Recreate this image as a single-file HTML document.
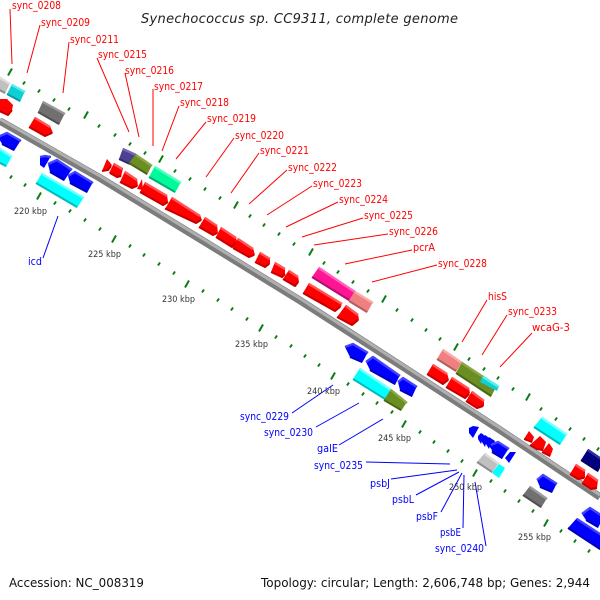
<!DOCTYPE html>
<html><head><meta charset="utf-8"><style>
html,body{margin:0;padding:0;background:#fff}
svg{display:block}
text{font-family:"DejaVu Sans","Liberation Sans",sans-serif}
.lr{fill:#f00;font-size:10.3px}.lb{fill:#00f;font-size:10.3px}
.k{fill:#333;font-size:9px}
.m{fill:#111;font-size:12px}
.lead{fill:none;stroke-width:1}
.t,.b{fill:none;stroke-linejoin:round}
.t{stroke-width:2.4}.b{stroke-width:2}
.r polygon{fill:#f00}.r .t{stroke:#f55}.r .b{stroke:#c40000}
.u polygon{fill:#00f}.u .t{stroke:#44f}.u .b{stroke:#0000b8}
.c polygon{fill:#0ff}.c .t{stroke:#7ff}.c .b{stroke:#0bb}
.d polygon{fill:#10cfd4}.d .t{stroke:#5ee}.d .b{stroke:#0a9a9e}
.g polygon{fill:#c0c0c0}.g .t{stroke:#ddd}.g .b{stroke:#8c8c8c}
.x polygon{fill:#707070}.x .t{stroke:#999}.x .b{stroke:#505050}
.p polygon{fill:#4b4190}.p .t{stroke:#7468b8}.p .b{stroke:#342c68}
.o polygon{fill:#6b8e23}.o .t{stroke:#8aa84a}.o .b{stroke:#4c6618}
.s polygon{fill:#00fa9a}.s .t{stroke:#55ffc0}.s .b{stroke:#00b070}
.z polygon{fill:#ff1493}.z .t{stroke:#ff66bb}.z .b{stroke:#b00e70}
.k2 polygon{fill:#f08080}.k2 .t{stroke:#f8aaaa}.k2 .b{stroke:#b06060}
.n polygon{fill:#000080}.n .t{stroke:#3030a0}.n .b{stroke:#000058}
.mj{stroke:#0a7d14;stroke-width:2;fill:none}
.mn{stroke:#0a7d14;stroke-width:2;fill:none}
</style></head><body>
<svg xmlns="http://www.w3.org/2000/svg" width="600" height="600" viewBox="0 0 600 600">
<rect width="600" height="600" fill="#fff"/>

<polyline points="0,121 100,178 200,239 300,300.5 400,365 500,430 600,497" fill="none" stroke="#7c7c7c" stroke-width="7.5"/>
<polyline points="0,119 100,176 200,237 300,298.5 400,363 500,428 600,495" fill="none" stroke="#b0b0b0" stroke-width="3"/>

<path class="mj" d="M8 75.5L12 68.5M84 118.5L88 111.5M159 162.5L163 155.5M234 208.5L238 201.5M309 255.5L313 248.5M382 302.5L386 295.5M454 350.5L458 343.5M526 400.5L530 393.5M37 199.5L41 192.5M112 242.5L116 235.5M185 287.5L189 280.5M259 331.5L263 324.5M331 379.5L335 372.5M402 427.5L406 420.5M473 476.5L477 469.5M544 526.5L548 519.5"/>
<path class="mn" d="M23 84.5L25 81.5M38 92.5L40 89.5M53 101.5L55 98.5M68 110.5L70 107.5M98 127.5L100 124.5M114 136.5L116 133.5M129 145.5L131 142.5M144 154.5L146 151.5M174 172.5L176 169.5M189 180.5L191 177.5M204 190.5L206 187.5M219 199.5L221 196.5M249 217.5L251 214.5M263 226.5L265 223.5M278 235.5L280 232.5M293 245.5L295 242.5M323 264.5L325 261.5M337 273.5L339 270.5M352 283.5L354 280.5M367 292.5L369 289.5M396 311.5L398 308.5M411 321.5L413 318.5M425 331.5L427 328.5M439 340.5L441 337.5M468 360.5L470 357.5M483 370.5L485 367.5M497 379.5L499 376.5M512 390.5L514 387.5M540 410.5L542 407.5M555 420.5L557 417.5M569 430.5L571 427.5M583 440.5L585 437.5M597 450.5L599 447.5"/>
<path class="mn" d="M10 178.5L12 175.5M24 186.5L26 183.5M54 204.5L56 201.5M69 212.5L71 209.5M84 221.5L86 218.5M99 230.5L101 227.5M129 247.5L131 244.5M143 256.5L145 253.5M158 265.5L160 262.5M173 274.5L175 271.5M202 292.5L204 289.5M217 301.5L219 298.5M231 310.5L233 307.5M246 320.5L248 317.5M275 338.5L277 335.5M290 347.5L292 344.5M304 357.5L306 354.5M318 366.5L320 363.5M347 385.5L349 382.5M362 395.5L364 392.5M376 404.5L378 401.5M391 413.5L393 410.5M419 433.5L421 430.5M433 443.5L435 440.5M447 452.5L449 449.5M461 462.5L463 459.5M490 482.5L492 479.5M504 492.5L506 489.5M518 502.5L520 499.5M532 512.5L534 509.5M560 532.5L562 529.5M574 542.5L576 539.5M588 552.5L590 549.5"/>

<!-- genes upper lane 2 -->
<g class="g"><polygon points="-3,75 10,83 5,94 -8,86"/><path class="t" d="M-3 76L10 84"/><path class="b" d="M-8 86L5 93"/></g>
<g class="d"><polygon points="12,84 25,91 20,102 7,94"/><path class="t" d="M12 85L25 92"/><path class="b" d="M7 94L20 101"/></g>
<g class="x"><polygon points="43,101 65,113 59,125 38,112"/><path class="t" d="M43 102L65 114"/><path class="b" d="M38 112L59 124"/></g>
<g class="p"><polygon points="123,148 136,154 130,165 119,159"/><path class="t" d="M123 149L136 155"/><path class="b" d="M119 159L130 164"/></g>
<g class="o"><polygon points="136,154 152,165 147,175 129,163"/><path class="t" d="M136 155L152 166"/><path class="b" d="M129 163L147 174"/></g>
<g class="s"><polygon points="155,166 181,182 175,193 149,177"/><path class="t" d="M155 167L181 183"/><path class="b" d="M149 177L175 192"/></g>
<g class="z"><polygon points="319,267 355,291 349,301 312,277"/><path class="t" d="M319 268L355 292"/><path class="b" d="M312 277L349 300"/></g>
<g class="k2"><polygon points="355,291 373,302 367,313 349,301"/><path class="t" d="M355 292L373 303"/><path class="b" d="M349 301L367 312"/></g>
<g class="k2"><polygon points="443,349 462,362 456,372 437,359"/><path class="t" d="M443 350L462 363"/><path class="b" d="M437 359L456 371"/></g>
<g class="o"><polygon points="462,362 497,385 491,397 456,373"/><path class="t" d="M462 363L497 386"/><path class="b" d="M456 373L491 396"/></g>
<g class="d"><polygon points="483,376 499,386 497,391 480,382"/><path class="t" d="M483 377L499 387"/></g>
<g class="c"><polygon points="542,417 567,434 560,445 534,427"/><path class="t" d="M542 418L567 435"/><path class="b" d="M534 427L560 444"/></g>
<g class="n"><polygon points="588,449 604,460 598,472 581,460"/><path class="t" d="M588 450L604 461"/><path class="b" d="M581 460L598 471"/></g>

<!-- red forward -->
<g class="r"><polygon points="-3,99 7,99 13,105 12,110 8,116 -3,110"/><path class="b" d="M-3 110L8 115L12 110"/></g>
<g class="r"><polygon points="35,117 50,126 53,133 45,137 29,127"/><path class="t" d="M35 118L50 127"/><path class="b" d="M29 127L45 136L52 133"/></g>
<g class="r"><polygon points="107,159 112,165 108,171 102,171"/><path class="b" d="M102 171L108 170L111 166"/></g>
<g class="r"><polygon points="114,163 123,168 121,177 117,178 109,173"/><path class="t" d="M114 164L122 169"/><path class="b" d="M110 173L117 177L121 176"/></g>
<g class="r"><polygon points="125,171 137,179 138,186 132,189 120,182"/><path class="t" d="M125 172L137 180"/><path class="b" d="M120 182L132 188L137 186"/></g>
<g class="r"><polygon points="142,179 143,190 137,189"/></g>
<g class="r"><polygon points="145,182 167,195 168,202 163,206 140,192"/><path class="t" d="M145 183L167 196"/><path class="b" d="M140 192L163 205L168 202"/></g>
<g class="r"><polygon points="172,197 200,215 202,220 196,224 165,209"/><path class="t" d="M172 198L200 216"/><path class="b" d="M165 208.500L196 223L201 220"/></g>
<g class="r"><polygon points="205,217 217,225 218,233 213,236 199,227"/><path class="t" d="M205 218L217 226"/><path class="b" d="M199 227L213 235L217 233"/></g>
<g class="r"><polygon points="221,227 236,237 237,243 232,248 216,237"/><path class="t" d="M221 228L236 238"/><path class="b" d="M216 237L232 247L236 243"/></g>
<g class="r"><polygon points="238,238 253,248 255,255 249,258 233,248"/><path class="t" d="M238 239L253 249"/><path class="b" d="M233 248L249 257L254 255"/></g>
<g class="r"><polygon points="260,252 270,258 270,264 265,268 255,262"/><path class="t" d="M260 253L270 259"/><path class="b" d="M255 262L265 267L269 264"/></g>
<g class="r"><polygon points="275,262 285,268 285,274 282,278 271,272"/><path class="t" d="M275 263L285 269"/><path class="b" d="M271 272L282 277L285 274"/></g>
<g class="r"><polygon points="289,270 298,276 299,282 295,287 283,279"/><path class="t" d="M289 271L298 277"/><path class="b" d="M283 279L295 286L298 282"/></g>
<g class="r"><polygon points="309,283 342,303 341,307 335,312 303,293"/><path class="t" d="M309 284L342 304"/><path class="b" d="M303 293L335 311L340 307"/></g>
<g class="r"><polygon points="346,305 358,314 359,320 352,326 337,317"/><path class="t" d="M346 306L358 315"/><path class="b" d="M337 317L352 325L358 320"/></g>
<g class="r"><polygon points="433,364 447,373 449,380 443,385 427,374"/><path class="t" d="M433 365L447 374"/><path class="b" d="M427 374L443 384L448 380"/></g>
<g class="r"><polygon points="452,377 469,388 470,393 465,399 446,387"/><path class="t" d="M452 378L469 389"/><path class="b" d="M446 387L465 398L469 394"/></g>
<g class="r"><polygon points="472,391 484,400 484,406 477,409 466,401"/><path class="t" d="M472 392L484 401"/><path class="b" d="M466 401L477 408L483 406"/></g>
<g class="r"><polygon points="529,431 534,437 532,443 524,439"/><path class="b" d="M524 439L532 442"/></g>
<g class="r"><polygon points="540,436 546,442 543,451 537,450 530,445"/><path class="b" d="M530 445L537 449L543 450"/></g>
<g class="r"><polygon points="549,443 553,449 550,457 542,452"/><path class="b" d="M542 452L550 456"/></g>
<g class="r"><polygon points="576,464 585,470 585,478 578,480 570,474"/><path class="t" d="M576 465L585 471"/><path class="b" d="M570 474L578 479L584 478"/></g>
<g class="r"><polygon points="588,473 598,480 597,488 591,490 582,483"/><path class="t" d="M588 474L598 481"/><path class="b" d="M582 483L591 489L597 488"/></g>

<!-- blue reverse, lower strand -->
<g class="u"><polygon points="7,132 21,140 14,151 2,144 -2,137"/><path class="t" d="M-2 137L7 133L21 141"/><path class="b" d="M2 144L14 150"/></g>
<g class="c"><polygon points="-3,146 12,156 6,167 -4,161"/><path class="t" d="M-3 147L12 157"/><path class="b" d="M-4 161L6 166"/></g>
<g class="u"><polygon points="45,155 51,156 44,168 40,165 40,157"/><path class="t" d="M40 157L45 156L51 157"/></g>
<g class="u"><polygon points="57,159 72,169 64,181 50,172 48,164"/><path class="t" d="M48 164L57 160L72 170"/><path class="b" d="M50 172L64 180"/></g>
<g class="u"><polygon points="75,171 93,182 87,193 70,183 68,176"/><path class="t" d="M68 176L75 172L93 183"/><path class="b" d="M70 183L87 192"/></g>
<g class="c"><polygon points="42,173 84,197 77,208 36,183"/><path class="t" d="M42 174L84 198"/><path class="b" d="M36 183L77 207"/></g>
<g class="u"><polygon points="353,343 368,352 362,363 350,357 345,347"/><path class="t" d="M345 347L353 344L368 353"/><path class="b" d="M350 357L362 362"/></g>
<g class="u"><polygon points="373,356 400,375 395,385 370,370 366,362"/><path class="t" d="M366 362L373 357L400 376"/><path class="b" d="M370 370L395 384"/></g>
<g class="u"><polygon points="403,377 417,386 412,397 400,390 398,382"/><path class="t" d="M398 382L403 378L417 387"/><path class="b" d="M400 390L412 396"/></g>
<g class="c"><polygon points="360,368 391,389 385,400 353,379"/><path class="t" d="M360 369L391 390"/><path class="b" d="M353 379L385 399"/></g>
<g class="o"><polygon points="391,389 407,402 401,411 384,400"/><path class="t" d="M391 390L407 403"/><path class="b" d="M384 400L401 410"/></g>
<g class="u"><polygon points="473,426 479,427 473,438 469,433 469,428"/></g>
<g class="u"><polygon points="481,433 484,435 481,444 478,439 478,436"/><polygon points="485,435 488,437 485,447 482,442 481,438"/><polygon points="489,437 492,439 489,449 486,444 485,440"/><polygon points="492,439 495,441 492,450 489,446 488,442"/></g>
<g class="u"><polygon points="498,441 509,448 502,459 492,452 491,445"/><path class="t" d="M491 445L498 442L509 449"/><path class="b" d="M492 452L502 458"/></g>
<g class="u"><polygon points="510,452 516,452 509,463 505,458"/></g>
<g class="g"><polygon points="485,453 499,463 492,473 477,462"/><path class="t" d="M485 454L499 464"/><path class="b" d="M477 462L492 472"/></g>
<g class="c"><polygon points="499,464 505,468 499,478 492,473"/></g>
<g class="u"><polygon points="543,474 557,483 552,493 540,487 537,480"/><path class="t" d="M537 480L543 475L557 484"/><path class="b" d="M540 487L552 492"/></g>
<g class="x"><polygon points="530,486 547,498 541,508 523,495"/><path class="t" d="M530 487L547 499"/><path class="b" d="M523 495L541 507"/></g>
<g class="u"><polygon points="590,507 604,516 598,528 586,520 582,514"/><path class="t" d="M582 514L590 508L604 517"/><path class="b" d="M586 520L598 527"/></g>
<g class="u"><polygon points="577,518 606,537 600,550 568,528"/><path class="t" d="M577 519L606 538"/><path class="b" d="M568 528L600 549"/></g>

<!-- red leaders -->
<path class="lead" stroke="#f00" d="M10 9L12 64M40 25L27 73M69 42L63 93M97 58L129 132M125 73L139 137M153 89V146M179 106L162 151M206 122L176 159M234 138L206 177M259 153L231 193M287 170L249 204M312 186L267 215M338 202L286 227M363 218L302 237M388 234L314 245M412 250L345 264M437 265L372 282M487 300L462 342M507 315L482 355M532 333L500 367"/>
<!-- blue leaders -->
<path class="lead" stroke="#00f" d="M43 258L58 216M292 413L333 385M316 427L359 403M339 445L383 419M366 462L450 464M391 479L457 470M416 495L459 472M441 512L462 473M463 528L464 475M486 546L475 482"/>

<text class="lr" x="12" y="9" textLength="49" lengthAdjust="spacingAndGlyphs">sync_0208</text>
<text class="lr" x="41" y="26" textLength="49" lengthAdjust="spacingAndGlyphs">sync_0209</text>
<text class="lr" x="70" y="43" textLength="49" lengthAdjust="spacingAndGlyphs">sync_0211</text>
<text class="lr" x="98" y="58" textLength="49" lengthAdjust="spacingAndGlyphs">sync_0215</text>
<text class="lr" x="125" y="74" textLength="49" lengthAdjust="spacingAndGlyphs">sync_0216</text>
<text class="lr" x="154" y="90" textLength="49" lengthAdjust="spacingAndGlyphs">sync_0217</text>
<text class="lr" x="180" y="106" textLength="49" lengthAdjust="spacingAndGlyphs">sync_0218</text>
<text class="lr" x="207" y="122" textLength="49" lengthAdjust="spacingAndGlyphs">sync_0219</text>
<text class="lr" x="235" y="139" textLength="49" lengthAdjust="spacingAndGlyphs">sync_0220</text>
<text class="lr" x="260" y="154" textLength="49" lengthAdjust="spacingAndGlyphs">sync_0221</text>
<text class="lr" x="288" y="171" textLength="49" lengthAdjust="spacingAndGlyphs">sync_0222</text>
<text class="lr" x="313" y="187" textLength="49" lengthAdjust="spacingAndGlyphs">sync_0223</text>
<text class="lr" x="339" y="203" textLength="49" lengthAdjust="spacingAndGlyphs">sync_0224</text>
<text class="lr" x="364" y="219" textLength="49" lengthAdjust="spacingAndGlyphs">sync_0225</text>
<text class="lr" x="389" y="235" textLength="49" lengthAdjust="spacingAndGlyphs">sync_0226</text>
<text class="lr" x="413" y="251" textLength="22" lengthAdjust="spacingAndGlyphs">pcrA</text>
<text class="lr" x="438" y="267" textLength="49" lengthAdjust="spacingAndGlyphs">sync_0228</text>
<text class="lr" x="488" y="300" textLength="19" lengthAdjust="spacingAndGlyphs">hisS</text>
<text class="lr" x="508" y="315" textLength="49" lengthAdjust="spacingAndGlyphs">sync_0233</text>
<text class="lr" x="532" y="331" textLength="38" lengthAdjust="spacingAndGlyphs">wcaG-3</text>

<text class="lb" x="28" y="265" textLength="14" lengthAdjust="spacingAndGlyphs">icd</text>
<text class="lb" x="240" y="420" textLength="49" lengthAdjust="spacingAndGlyphs">sync_0229</text>
<text class="lb" x="264" y="436" textLength="49" lengthAdjust="spacingAndGlyphs">sync_0230</text>
<text class="lb" x="317" y="452" textLength="21" lengthAdjust="spacingAndGlyphs">galE</text>
<text class="lb" x="314" y="469" textLength="49" lengthAdjust="spacingAndGlyphs">sync_0235</text>
<text class="lb" x="370" y="487" textLength="20" lengthAdjust="spacingAndGlyphs">psbJ</text>
<text class="lb" x="392" y="503" textLength="22" lengthAdjust="spacingAndGlyphs">psbL</text>
<text class="lb" x="416" y="520" textLength="22" lengthAdjust="spacingAndGlyphs">psbF</text>
<text class="lb" x="440" y="536" textLength="21" lengthAdjust="spacingAndGlyphs">psbE</text>
<text class="lb" x="435" y="552" textLength="49" lengthAdjust="spacingAndGlyphs">sync_0240</text>

<text class="k" x="14" y="214" textLength="33" lengthAdjust="spacingAndGlyphs">220 kbp</text>
<text class="k" x="88" y="257" textLength="33" lengthAdjust="spacingAndGlyphs">225 kbp</text>
<text class="k" x="162" y="302" textLength="33" lengthAdjust="spacingAndGlyphs">230 kbp</text>
<text class="k" x="235" y="347" textLength="33" lengthAdjust="spacingAndGlyphs">235 kbp</text>
<text class="k" x="307" y="394" textLength="33" lengthAdjust="spacingAndGlyphs">240 kbp</text>
<text class="k" x="378" y="441" textLength="33" lengthAdjust="spacingAndGlyphs">245 kbp</text>
<text class="k" x="449" y="490" textLength="33" lengthAdjust="spacingAndGlyphs">250 kbp</text>
<text class="k" x="518" y="540" textLength="33" lengthAdjust="spacingAndGlyphs">255 kbp</text>

<text x="141" y="23" font-size="13" font-style="italic" fill="#222" textLength="317" lengthAdjust="spacing">Synechococcus sp. CC9311, complete genome</text>
<text class="m" x="9" y="587" textLength="135" lengthAdjust="spacingAndGlyphs">Accession: NC_008319</text>
<text class="m" x="261" y="587" textLength="329" lengthAdjust="spacingAndGlyphs">Topology: circular; Length: 2,606,748 bp; Genes: 2,944</text>
</svg>
</body></html>
